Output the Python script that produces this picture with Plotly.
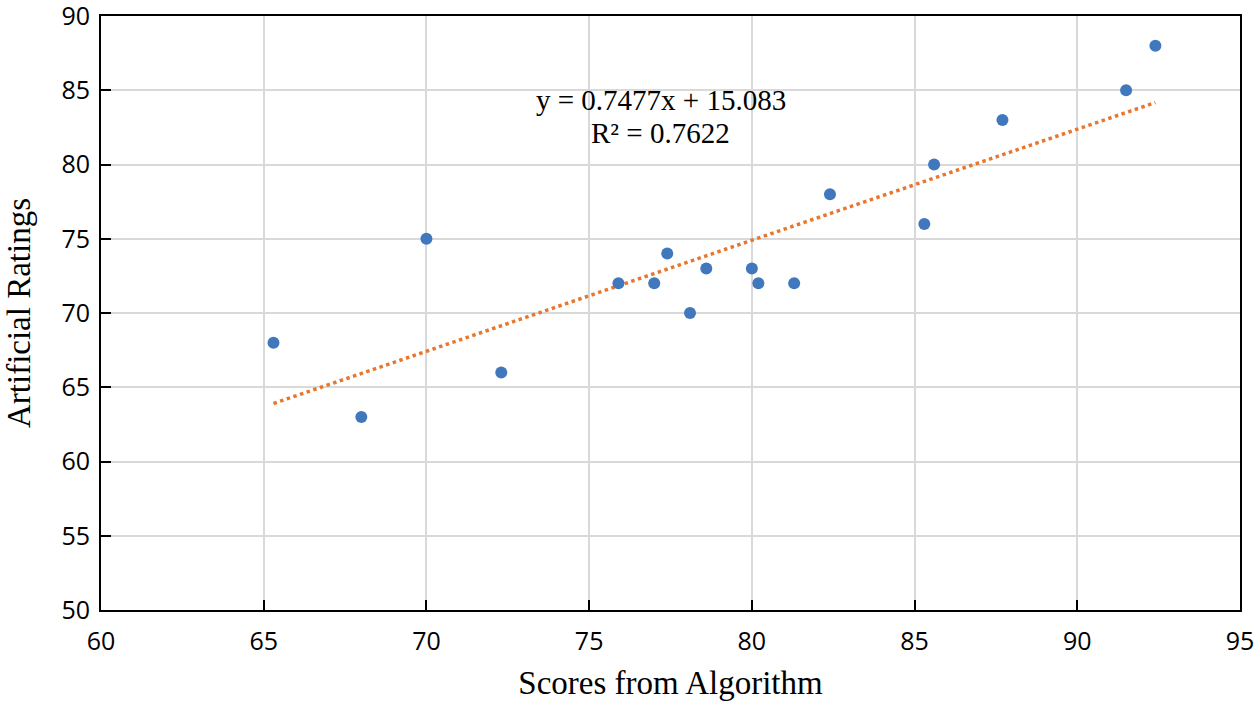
import plotly.graph_objects as go

scores = [65.3, 68.0, 70.0, 72.3, 75.9, 77.0, 77.4, 78.1, 78.6, 80.0, 80.2, 81.3, 82.4, 85.3, 85.6, 87.7, 91.5, 92.4]
ratings = [68, 63, 75, 66, 72, 72, 74, 70, 73, 73, 72, 72, 78, 76, 80, 83, 85, 88]
slope = 0.7477
intercept = 15.083
r_squared = 0.7622
x_ticks = [60, 65, 70, 75, 80, 85, 90, 95]
y_ticks = [50, 55, 60, 65, 70, 75, 80, 85, 90]

trend_x = [min(scores), max(scores)]
trend_y = [slope * v + intercept for v in trend_x]

fig = go.Figure()
fig.add_trace(go.Scatter(x=trend_x, y=trend_y, mode="lines",
                         line=dict(color="#e8772e", width=3.5, dash="dot"),
                         hoverinfo="skip", showlegend=False))
fig.add_trace(go.Scatter(x=scores, y=ratings, mode="markers",
                         marker=dict(color="#4178bd", size=12),
                         showlegend=False))

eq_font = dict(family="Liberation Serif", size=29, color="#000")
fig.add_annotation(x=77.2, xref="x", y=85, yref="y",
                   text=f"y = {slope}x + {intercept}",
                   showarrow=False, xanchor="center", yanchor="middle",
                   font=eq_font, yshift=-10)
fig.add_annotation(x=77.2, xref="x", y=85, yref="y",
                   text=f"R² = {r_squared}",
                   showarrow=False, xanchor="center", yanchor="middle",
                   font=eq_font, yshift=-43)

tick_font = dict(family="Open Sans", size=25, color="#000")
axis_common = dict(showline=True, linecolor="#000", linewidth=2, mirror=True,
                   ticks="inside", ticklen=10, tickwidth=2, tickcolor="#000",
                   showgrid=True, gridcolor="#d9d9d9", gridwidth=1.5,
                   zeroline=False, ticklabeloverflow="allow")

fig.update_xaxes(range=[60, 95], tickvals=x_ticks, tickfont=tick_font,
                 ticklabelstandoff=8,
                 title=dict(text="Scores from Algorithm",
                            font=dict(family="Liberation Serif", size=33, color="#000"),
                            standoff=15),
                 **axis_common)
fig.update_yaxes(range=[50, 90], tickvals=y_ticks, tickfont=tick_font,
                 ticklabelstandoff=4,
                 title=dict(text="Artificial Ratings",
                            font=dict(family="Liberation Serif", size=33, color="#000"),
                            standoff=21),
                 **axis_common)

fig.update_layout(width=1260, height=707,
                  margin=dict(l=101, r=20, t=16, b=97, autoexpand=False),
                  plot_bgcolor="#fff", paper_bgcolor="#fff")

fig.write_html("out.html", config={"displayModeBar": False},
               post_script="document.body.style.margin='0';document.body.style.overflow='hidden';")
